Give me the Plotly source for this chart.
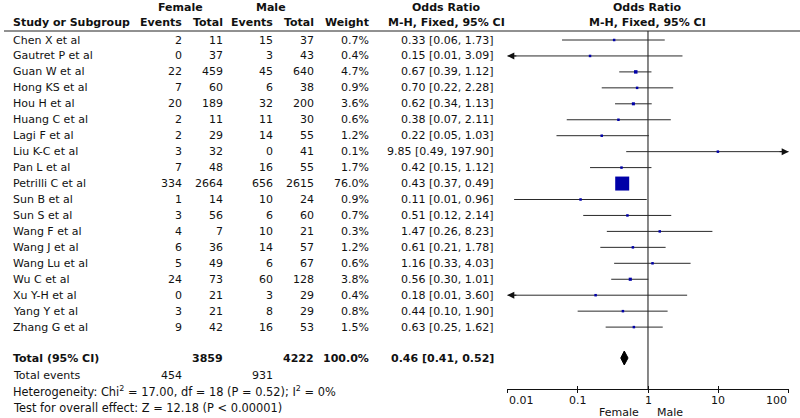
import math
import plotly.graph_objects as go

# ---------------- data ----------------
studies = ["Chen X et al", "Gautret P et al", "Guan W et al", "Hong KS et al", "Hou H et al",
           "Huang C et al", "Lagi F et al", "Liu K-C et al", "Pan L et al", "Petrilli C et al",
           "Sun B et al", "Sun S et al", "Wang F et al", "Wang J et al", "Wang Lu et al",
           "Wu C et al", "Xu Y-H et al", "Yang Y et al", "Zhang G et al"]
female_events = [2, 0, 22, 7, 20, 2, 2, 3, 7, 334, 1, 3, 4, 6, 5, 24, 0, 3, 9]
female_total = [11, 37, 459, 60, 189, 11, 29, 32, 48, 2664, 14, 56, 7, 36, 49, 73, 21, 21, 42]
male_events = [15, 3, 45, 6, 32, 11, 14, 0, 16, 656, 10, 6, 10, 14, 6, 60, 3, 8, 16]
male_total = [37, 43, 640, 38, 200, 30, 55, 41, 55, 2615, 24, 60, 21, 57, 67, 128, 29, 29, 53]
weights = [0.7, 0.4, 4.7, 0.9, 3.6, 0.6, 1.2, 0.1, 1.7, 76.0, 0.9, 0.7, 0.3, 1.2, 0.6, 3.8, 0.4, 0.8, 1.5]
odds_ratio = [0.33, 0.15, 0.67, 0.70, 0.62, 0.38, 0.22, 9.85, 0.42, 0.43, 0.11, 0.51, 1.47, 0.61,
              1.16, 0.56, 0.18, 0.44, 0.63]
ci_low = [0.06, 0.007, 0.39, 0.22, 0.34, 0.07, 0.05, 0.49, 0.15, 0.37, 0.0125, 0.12, 0.26, 0.21,
          0.33, 0.30, 0.008, 0.10, 0.25]
ci_high = [1.73, 3.09, 1.12, 2.28, 1.13, 2.11, 1.03, 197.90, 1.12, 0.49, 0.96, 2.14, 8.23, 1.78,
           4.03, 1.01, 3.60, 1.90, 1.62]

total_female = 3859
total_male = 4222
total_weight = "100.0%"
events_female = 454
events_male = 931
pooled_or = 0.46
pooled_low = 0.41
pooled_high = 0.52
heterogeneity = "Heterogeneity: Chi<sup>2</sup> = 17.00, df = 18 (P = 0.52); I<sup>2</sup> = 0%"
overall_test = "Test for overall effect: Z = 12.18 (P &lt; 0.00001)"

tick_vals = [0.01, 0.1, 1, 10, 100]
tick_labels = ["0.01", "0.1", "1", "10", "100"]
axis_min, axis_max = 0.01, 100

# ---------------- layout constants (pixels) ----------------
W, H = 800, 418
ROW0, ROWH = 40, 15.95
FONT = "DejaVu Sans"
FS = 11
TXT = "#111111"

def row_y(i):
    return ROW0 + ROWH * i

fig = go.Figure()
annotations = []

def txt(xpx, ypx, text, anchor="right", bold=False, size=FS):
    if bold:
        text = "<b>" + text + "</b>"
    annotations.append(dict(x=xpx / W, xref="paper", y=ypx, yref="y", text=text,
                            showarrow=False, xanchor=anchor, yanchor="middle",
                            font=dict(family=FONT, size=size, color=TXT)))

# column right edges
C_FE, C_FT, C_ME, C_MT, C_W, C_OR = 184, 225, 275, 316, 371, 496
C_NAME = 11

# headers
txt(180, 7, "Female", "center", True)
txt(271, 7, "Male", "center", True)
txt(446, 7, "Odds Ratio", "center", True)
txt(647, 7, "Odds Ratio", "center", True)
txt(C_NAME, 22, "Study or Subgroup", "left", True)
txt(C_FE, 22, "Events", "right", True)
txt(C_FT, 22, "Total", "right", True)
txt(C_ME, 22, "Events", "right", True)
txt(C_MT, 22, "Total", "right", True)
txt(C_W, 22, "Weight", "right", True)
txt(446, 22, "M-H, Fixed, 95% CI", "center", True)
txt(647, 22, "M-H, Fixed, 95% CI", "center", True)

# study rows
for i, s in enumerate(studies):
    y = row_y(i)
    txt(C_NAME, y, s, "left")
    txt(C_FE, y, str(female_events[i]))
    txt(C_FT, y, str(female_total[i]))
    txt(C_ME, y, str(male_events[i]))
    txt(C_MT, y, str(male_total[i]))
    txt(C_W, y, f"{weights[i]:.1f}%")
    txt(C_OR, y, f"{odds_ratio[i]:.2f} [{ci_low[i]:.2f}, {ci_high[i]:.2f}]")

# totals
Y_TOT = 358
txt(C_NAME, Y_TOT, "Total (95% CI)", "left", True)
txt(C_FT, Y_TOT, str(total_female), "right", True)
txt(C_MT, Y_TOT, str(total_male), "right", True)
txt(C_W, Y_TOT, total_weight, "right", True)
txt(C_OR, Y_TOT, f"{pooled_or:.2f} [{pooled_low:.2f}, {pooled_high:.2f}]", "right", True)
txt(C_NAME, 375, "Total events", "left")
txt(C_FE, 375, str(events_female))
txt(C_ME, 375, str(events_male))
txt(C_NAME, 391, heterogeneity, "left", size=11.4)
txt(C_NAME, 407.5, overall_test, "left", size=11.4)

# header rule
fig.add_shape(type="line", xref="paper", yref="y", x0=4 / W, x1=1, y0=31, y1=31,
              line=dict(color="#222222", width=1))

# vertical line of no effect
Y_AXIS = 389
fig.add_trace(go.Scatter(x=[1, 1], y=[31, Y_AXIS], mode="lines",
                         line=dict(color="#111111", width=1), hoverinfo="skip", showlegend=False))

# CI lines and arrows
for i in range(len(studies)):
    y = row_y(i)
    lo = max(ci_low[i], axis_min)
    hi = min(ci_high[i], axis_max)
    fig.add_trace(go.Scatter(x=[lo, hi], y=[y, y], mode="lines",
                             line=dict(color="#2a2a2a", width=1), hoverinfo="skip", showlegend=False))
    if ci_low[i] < axis_min:
        annotations.append(dict(x=math.log10(axis_min), y=y, xref="x", yref="y",
                                ax=math.log10(axis_min) + 0.15, ay=y, axref="x", ayref="y",
                                showarrow=True, arrowhead=2, arrowsize=1.4, arrowwidth=1,
                                arrowcolor="#111111", text="", standoff=0, startstandoff=0))
    if ci_high[i] > axis_max:
        annotations.append(dict(x=math.log10(axis_max), y=y, xref="x", yref="y",
                                ax=math.log10(axis_max) - 0.15, ay=y, axref="x", ayref="y",
                                showarrow=True, arrowhead=2, arrowsize=1.4, arrowwidth=1,
                                arrowcolor="#111111", text="", standoff=0, startstandoff=0))

# point estimates (square area ~ weight)
max_w = max(weights)
sizes = [max(2.5, 14 * math.sqrt(w / max_w)) for w in weights]
fig.add_trace(go.Scatter(x=odds_ratio, y=[row_y(i) for i in range(len(studies))], mode="markers",
                         marker=dict(symbol="square", size=sizes, color="#0000a8", opacity=1,
                                     line=dict(width=0)),
                         opacity=1, hoverinfo="skip", showlegend=False))

# pooled diamond
dh = 7
fig.add_trace(go.Scatter(x=[pooled_low, pooled_or, pooled_high, pooled_or, pooled_low],
                         y=[Y_TOT, Y_TOT - dh, Y_TOT, Y_TOT + dh, Y_TOT],
                         mode="lines", fill="toself", fillcolor="#000000",
                         line=dict(color="#000000", width=1), hoverinfo="skip", showlegend=False))

# tick labels
for v, lab in zip(tick_vals, tick_labels):
    anchor = "left" if v == tick_vals[0] else ("right" if v == tick_vals[-1] else "center")
    annotations.append(dict(x=math.log10(v), xref="x", y=400, yref="y", text=lab, showarrow=False,
                            xanchor=anchor, yanchor="middle",
                            font=dict(family=FONT, size=FS, color=TXT)))
annotations.append(dict(x=math.log10(1), xref="x", y=412, yref="y", text="Female  ",
                        showarrow=False, xanchor="right", yanchor="middle",
                        font=dict(family=FONT, size=FS, color=TXT)))
annotations.append(dict(x=math.log10(1), xref="x", y=412, yref="y", text="  Male",
                        showarrow=False, xanchor="left", yanchor="middle",
                        font=dict(family=FONT, size=FS, color=TXT)))

pos = (H - Y_AXIS) / H
dom = [507.3 / W, 788.7 / W]
axis_common = dict(type="log", range=[math.log10(axis_min), math.log10(axis_max)], domain=dom,
                   anchor="free", position=pos, showgrid=False, zeroline=False,
                   showline=True, linecolor="#111111", linewidth=1,
                   tickvals=tick_vals, ticklen=3, tickcolor="#111111", tickwidth=1,
                   showticklabels=False, automargin=False, fixedrange=True)

fig.update_layout(
    width=W, height=H, margin=dict(l=0, r=0, t=0, b=0),
    paper_bgcolor="white", plot_bgcolor="rgba(0,0,0,0)",
    xaxis=dict(**axis_common, ticks="outside"),
    xaxis2=dict(**axis_common, ticks="inside", overlaying="x"),
    yaxis=dict(range=[H, 0], domain=[0, 1], visible=False, fixedrange=True),
    annotations=annotations,
    showlegend=False,
)
# dummy trace to activate xaxis2
fig.add_trace(go.Scatter(x=[1], y=[Y_AXIS], xaxis="x2", mode="markers",
                         marker=dict(size=0.1, opacity=0), hoverinfo="skip", showlegend=False))

fig.write_html("out.html", config={"displayModeBar": False},
               post_script="document.body.style.margin='0';document.body.style.overflow='hidden';")
